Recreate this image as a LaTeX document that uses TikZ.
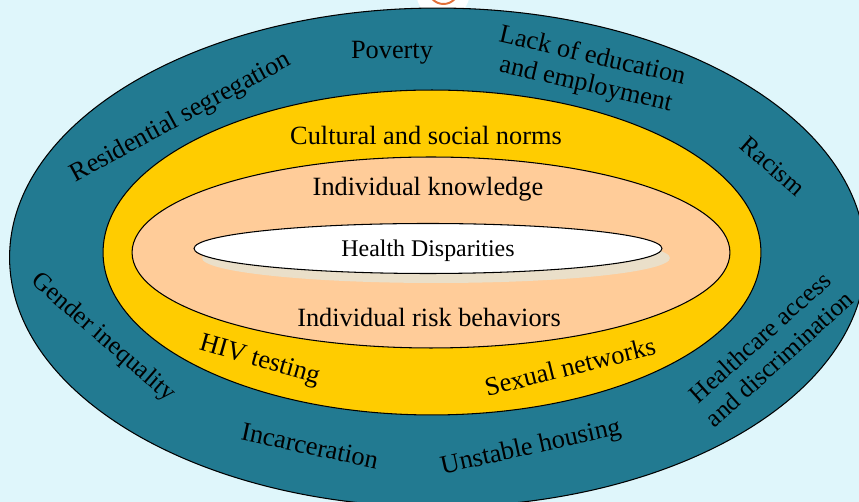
\documentclass[tikz,border=0pt]{standalone}
\usepackage{fontspec}
\setmainfont{Liberation Serif}
\usetikzlibrary{shapes.geometric}
\definecolor{paleblue}{HTML}{DFF6FB}
\definecolor{teal}{HTML}{227A91}
\definecolor{gold}{HTML}{FFCC00}
\definecolor{peach}{HTML}{FFCC99}
\definecolor{shade}{HTML}{EADFC9}
\definecolor{logo}{HTML}{E2703A}
\tikzset{ring/.style={ellipse, draw=black, line width=0.6pt, inner sep=0pt},
  label/.style={font=\fontsize{15}{16.5}\selectfont, align=center, inner sep=0pt, text=black},
  smalllabel/.style={label, font=\fontsize{14.4}{16.5}\selectfont}}

\begin{document}
\begin{tikzpicture}[x=0.02cm,y=-0.02cm]
   \useasboundingbox (0,0) rectangle (859,502);
   \fill[paleblue] (0,0) rectangle (859,502);
   \begin{scope}
    \clip (0,0) rectangle (859,502);
    \fill[white] (443,-8) circle(27);
    \draw[logo, line width=1.1pt] (443.5,-11) circle(15);
    \node[ring, fill=teal, minimum width=17.12cm, minimum height=9.98cm] (outer) at (437.5,257.5) {};
   \end{scope}
   \node[ring, fill=gold, minimum width=13.16cm, minimum height=6.5cm] (culture) at (432,252.5) {};
   \node[ring, fill=peach, minimum width=11.96cm, minimum height=3.82cm] (person) at (431,252.5) {};
   \node[ellipse, fill=shade, inner sep=0pt, minimum width=9.36cm, minimum height=1cm] (shadow) at (436,258) {};
   \node[ring, fill=white, minimum width=9.36cm, minimum height=1cm] (core) at (428,248.5) {};
   \node[label, font=\fontsize{13.6}{15}\selectfont] (disparities) at (428,251) {Health Disparities};
   \node[label] (knowledge) at (428,189) {Individual knowledge};
   \node[label] (risk) at (429,317) {Individual risk behaviors};
   \node[label] (norms) at (426,135.5) {Cultural and social norms};
   \node[label, rotate=-16] (testing) at (259.5,361) {HIV testing};
   \node[label, rotate=14] (networks) at (570,366.5) {Sexual networks};
   \node[label, rotate=28.5] (segregation) at (181,118) {Residential segregation};
   \node[label] (poverty) at (392,53) {Poverty};
   \node[label, rotate=-13] (education) at (589,71) {Lack of education\\and employment};
   \node[smalllabel, rotate=-41] (racism) at (773,166) {Racism};
   \node[smalllabel, rotate=42] (healthcare) at (769.5,348) {Healthcare access\\and discrimination};
   \node[label, rotate=12.5] (housing) at (531,448) {Unstable housing};
   \node[label, rotate=-12] (incarceration) at (310,446) {Incarceration};
   \node[smalllabel, rotate=-41] (gender) at (103,338) {Gender inequality};
\end{tikzpicture}
\end{document}
